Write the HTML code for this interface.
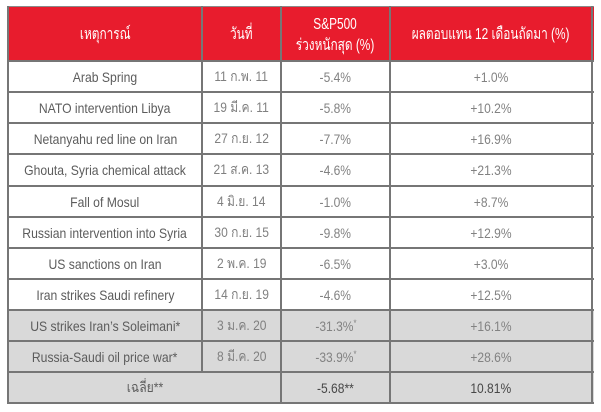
<!DOCTYPE html>
<html><head><meta charset="utf-8">
<style>
html,body{margin:0;padding:0;background:#fff;}
body{width:601px;height:412px;position:relative;overflow:hidden;font-family:"Liberation Sans","Noto Sans CJK SC",sans-serif;}
.bg{position:absolute;}
.h{position:absolute;left:7px;width:587px;height:2px;background:#767676;}
.v{position:absolute;top:6px;width:2px;height:398px;background:#767676;}
.c{position:absolute;display:flex;align-items:center;justify-content:center;white-space:nowrap;}
.c span{display:inline-block;}
.n1{color:#5c5c5c;font-size:14px;}
.n1 span{transform:scaleX(0.87);}
.d{color:#808080;font-size:14px;}
.d span{transform:scaleX(0.86);}
.num{color:#828282;font-size:14px;}
.num span{transform:scaleX(0.86);}
.hd{color:#fff;font-size:16px;text-align:center;line-height:21px;}
.hd span{transform:scaleX(0.74);}
.dark{color:#474747;}
sup{font-size:9px;vertical-align:5px;}
</style></head><body>
<!-- header -->
<div class="bg" style="left:7px;top:6px;width:587px;height:56px;background:#e81c2d;"></div>
<!-- gray rows -->
<div class="bg" style="left:7px;top:310px;width:587px;height:93px;background:#d9d9d9;"></div>

<!-- horizontal lines -->
<div class="h" style="top:6px;background:#8a8a8a;height:1px;"></div>
<div class="h" style="top:60px;"></div>
<div class="h" style="top:91px;"></div>
<div class="h" style="top:122px;"></div>
<div class="h" style="top:153px;"></div>
<div class="h" style="top:185px;"></div>
<div class="h" style="top:216px;"></div>
<div class="h" style="top:247px;"></div>
<div class="h" style="top:278px;"></div>
<div class="h" style="top:309px;"></div>
<div class="h" style="top:340px;"></div>
<div class="h" style="top:371px;"></div>
<div class="h" style="top:402px;"></div>
<!-- vertical lines -->
<div class="v" style="left:7px;"></div>
<div class="v" style="left:201px;height:366px;"></div>
<div class="v" style="left:280px;"></div>
<div class="v" style="left:389px;"></div>
<div class="v" style="left:591px;"></div>
<div class="bg" style="left:201px;top:373px;width:2px;height:29px;background:#d9d9d9;"></div>

<!-- header text -->
<div class="c hd" style="left:9px;top:8px;width:192px;height:52px;"><span>เหตุการณ์</span></div>
<div class="c hd" style="left:203px;top:8px;width:77px;height:52px;"><span>วันที่</span></div>
<div class="c hd" style="left:282px;top:9px;width:107px;height:52px;"><span>S&amp;P500<br>ร่วงหนักสุด (%)</span></div>
<div class="c hd" style="left:391px;top:8px;width:200px;height:52px;"><span>ผลตอบแทน 12 เดือนถัดมา (%)</span></div>

<!-- rows -->
<div class="c n1" style="left:9px;top:62px;width:192px;height:30px;"><span>Arab Spring</span></div>
<div class="c d" style="left:203px;top:62px;width:77px;height:30px;"><span>11 ก.พ. 11</span></div>
<div class="c num" style="left:282px;top:62px;width:107px;height:30px;"><span>-5.4%</span></div>
<div class="c num" style="left:391px;top:62px;width:200px;height:30px;"><span>+1.0%</span></div>

<div class="c n1" style="left:9px;top:93px;width:192px;height:30px;"><span>NATO intervention Libya</span></div>
<div class="c d" style="left:203px;top:93px;width:77px;height:30px;"><span>19 มี.ค. 11</span></div>
<div class="c num" style="left:282px;top:93px;width:107px;height:30px;"><span>-5.8%</span></div>
<div class="c num" style="left:391px;top:93px;width:200px;height:30px;"><span>+10.2%</span></div>

<div class="c n1" style="left:9px;top:124px;width:192px;height:30px;"><span>Netanyahu red line on Iran</span></div>
<div class="c d" style="left:203px;top:124px;width:77px;height:30px;"><span>27 ก.ย. 12</span></div>
<div class="c num" style="left:282px;top:124px;width:107px;height:30px;"><span>-7.7%</span></div>
<div class="c num" style="left:391px;top:124px;width:200px;height:30px;"><span>+16.9%</span></div>

<div class="c n1" style="left:9px;top:155px;width:192px;height:30px;"><span>Ghouta, Syria chemical attack</span></div>
<div class="c d" style="left:203px;top:155px;width:77px;height:30px;"><span>21 ส.ค. 13</span></div>
<div class="c num" style="left:282px;top:155px;width:107px;height:30px;"><span>-4.6%</span></div>
<div class="c num" style="left:391px;top:155px;width:200px;height:30px;"><span>+21.3%</span></div>

<div class="c n1" style="left:9px;top:187px;width:192px;height:30px;"><span>Fall of Mosul</span></div>
<div class="c d" style="left:203px;top:187px;width:77px;height:30px;"><span>4 มิ.ย. 14</span></div>
<div class="c num" style="left:282px;top:187px;width:107px;height:30px;"><span>-1.0%</span></div>
<div class="c num" style="left:391px;top:187px;width:200px;height:30px;"><span>+8.7%</span></div>

<div class="c n1" style="left:9px;top:218px;width:192px;height:30px;"><span>Russian intervention into Syria</span></div>
<div class="c d" style="left:203px;top:218px;width:77px;height:30px;"><span>30 ก.ย. 15</span></div>
<div class="c num" style="left:282px;top:218px;width:107px;height:30px;"><span>-9.8%</span></div>
<div class="c num" style="left:391px;top:218px;width:200px;height:30px;"><span>+12.9%</span></div>

<div class="c n1" style="left:9px;top:249px;width:192px;height:30px;"><span>US sanctions on Iran</span></div>
<div class="c d" style="left:203px;top:249px;width:77px;height:30px;"><span>2 พ.ค. 19</span></div>
<div class="c num" style="left:282px;top:249px;width:107px;height:30px;"><span>-6.5%</span></div>
<div class="c num" style="left:391px;top:249px;width:200px;height:30px;"><span>+3.0%</span></div>

<div class="c n1" style="left:9px;top:280px;width:192px;height:30px;"><span>Iran strikes Saudi refinery</span></div>
<div class="c d" style="left:203px;top:280px;width:77px;height:30px;"><span>14 ก.ย. 19</span></div>
<div class="c num" style="left:282px;top:280px;width:107px;height:30px;"><span>-4.6%</span></div>
<div class="c num" style="left:391px;top:280px;width:200px;height:30px;"><span>+12.5%</span></div>

<div class="c n1" style="left:9px;top:311px;width:192px;height:30px;"><span>US strikes Iran’s Soleimani*</span></div>
<div class="c d" style="left:203px;top:311px;width:77px;height:30px;"><span>3 ม.ค. 20</span></div>
<div class="c num" style="left:282px;top:311px;width:107px;height:30px;"><span>-31.3%<sup>*</sup></span></div>
<div class="c num" style="left:391px;top:311px;width:200px;height:30px;"><span>+16.1%</span></div>

<div class="c n1" style="left:9px;top:342px;width:192px;height:30px;"><span>Russia-Saudi oil price war*</span></div>
<div class="c d" style="left:203px;top:342px;width:77px;height:30px;"><span>8 มี.ค. 20</span></div>
<div class="c num" style="left:282px;top:342px;width:107px;height:30px;"><span>-33.9%<sup>*</sup></span></div>
<div class="c num" style="left:391px;top:342px;width:200px;height:30px;"><span>+28.6%</span></div>

<div class="c n1" style="left:9px;top:373px;width:271px;height:30px;"><span>เฉลี่ย**</span></div>
<div class="c num dark" style="left:282px;top:373px;width:107px;height:30px;"><span>-5.68**</span></div>
<div class="c num dark" style="left:391px;top:373px;width:200px;height:30px;"><span>10.81%</span></div>
</body></html>
